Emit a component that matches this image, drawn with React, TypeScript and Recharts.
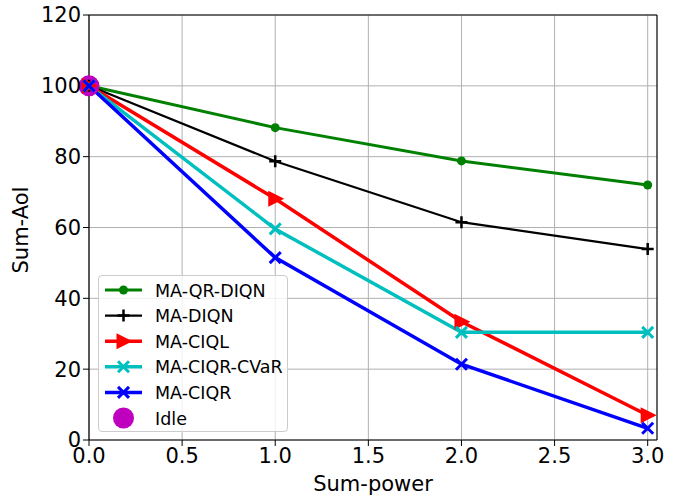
import {
  CartesianGrid,
  ComposedChart,
  Line,
  ReferenceLine,
  Scatter,
  XAxis,
  YAxis,
} from "recharts";

const powers = [0, 1, 2, 3];
const qrDiqn = [100, 88.2, 78.8, 72.0];
const diqn = [100, 78.7, 61.5, 53.9];
const ciql = [100, 68.1, 33.4, 7.0];
const ciqrCvar = [100, 59.6, 30.4, 30.4];
const ciqr = [100, 51.5, 21.4, 3.3];
const idle = [{ p: 0, idle: 100 }];

const xTicks = [0, 0.5, 1, 1.5, 2, 2.5, 3];
const yTicks = [0, 20, 40, 60, 80, 100, 120];

const data = powers.map((p, i) => ({
  p,
  qrDiqn: qrDiqn[i],
  diqn: diqn[i],
  ciql: ciql[i],
  ciqrCvar: ciqrCvar[i],
  ciqr: ciqr[i],
}));

const font = "DejaVu Sans, sans-serif";

type Shape = "circle" | "plus" | "tri" | "x" | "big";

function Marker({ shape, color, cx, cy }: { shape: Shape; color: string; cx: number; cy: number }) {
  if (shape === "circle") return <circle cx={cx} cy={cy} r={4.5} fill={color} />;
  if (shape === "big") return <circle cx={cx} cy={cy} r={10.5} fill={color} />;
  if (shape === "plus")
    return (
      <path
        d={`M${cx - 6},${cy}H${cx + 6}M${cx},${cy - 6}V${cy + 6}`}
        stroke={color}
        strokeWidth={2.5}
      />
    );
  if (shape === "tri")
    return (
      <polygon
        points={`${cx - 7},${cy - 8} ${cx + 9},${cy} ${cx - 7},${cy + 8}`}
        fill={color}
      />
    );
  return (
    <path
      d={`M${cx - 5.5},${cy - 5.5}L${cx + 5.5},${cy + 5.5}M${cx - 5.5},${cy + 5.5}L${cx + 5.5},${cy - 5.5}`}
      stroke={color}
      strokeWidth={3}
    />
  );
}

const dotFor = (shape: Shape, color: string) => (props: any) => {
  if (props.cx == null || props.cy == null) return <g key={props.key} />;
  return (
    <g key={props.key}>
      <Marker shape={shape} color={color} cx={props.cx} cy={props.cy} />
    </g>
  );
};

const series = [
  { key: "qrDiqn", name: "MA-QR-DIQN", color: "#008000", shape: "circle" as Shape, width: 3 },
  { key: "diqn", name: "MA-DIQN", color: "#000000", shape: "plus" as Shape, width: 2.2 },
  { key: "ciql", name: "MA-CIQL", color: "#ff0000", shape: "tri" as Shape, width: 3.5 },
  { key: "ciqrCvar", name: "MA-CIQR-CVaR", color: "#00bfbf", shape: "x" as Shape, width: 3.5 },
  { key: "ciqr", name: "MA-CIQR", color: "#0000ff", shape: "x" as Shape, width: 3.5 },
];

function LegendBox() {
  const rows = [...series, { key: "idle", name: "Idle", color: "#bf00bf", shape: "big" as Shape, width: 0 }];
  return (
    <div
      style={{
        position: "absolute",
        left: 98,
        top: 275,
        width: 190,
        height: 157,
        border: "1px solid #cccccc",
        borderRadius: 4,
        background: "rgba(255,255,255,0.8)",
        boxSizing: "border-box",
      }}
    >
      <svg width={188} height={155} style={{ display: "block" }}>
        {rows.map((r, i) => {
          const y = 14 + i * 25.6;
          return (
            <g key={r.key}>
              {r.width > 0 && (
                <line x1={6} x2={43} y1={y} y2={y} stroke={r.color} strokeWidth={r.width} />
              )}
              <Marker shape={r.shape} color={r.color} cx={24.5} cy={y} />
              <text x={56} y={y + 6.5} fontSize={17.5} fontFamily={font} fill="#000">
                {r.name}
              </text>
            </g>
          );
        })}
      </svg>
    </div>
  );
}

export default function App() {
  return (
    <div style={{ position: "absolute", left: 0, top: 0, width: 677, height: 495, background: "#fff", overflow: "hidden" }}>
      <ComposedChart
        width={677}
        height={495}
        data={data}
        margin={{ top: 15, right: 20, bottom: 0, left: 29 }}
      >
        <CartesianGrid stroke="#b0b0b0" strokeWidth={1} horizontalValues={yTicks} verticalValues={xTicks} />
        <XAxis
          dataKey="p"
          type="number"
          domain={[0, 3.05]}
          ticks={xTicks}
          tickFormatter={(v: number) => v.toFixed(1)}
          tick={{ fontSize: 21, fill: "#000", fontFamily: font }}
          tickSize={6}
          stroke="#000"
          axisLine={{ stroke: "#000", strokeWidth: 1.2 }}
          label={{ value: "Sum-power", position: "insideBottom", offset: 4, fontSize: 21, fill: "#000", fontFamily: font }}
          height={55}
        />
        <YAxis
          type="number"
          domain={[0, 120]}
          ticks={yTicks}
          tick={{ fontSize: 21, fill: "#000", fontFamily: font }}
          tickSize={6}
          stroke="#000"
          axisLine={{ stroke: "#000", strokeWidth: 1.2 }}
          width={60}
          label={{ value: "Sum-AoI", angle: -90, position: "insideLeft", offset: -8, dy: 46, fontSize: 21, fill: "#000", fontFamily: font }}
        />
        <ReferenceLine y={120} stroke="#000" strokeWidth={1.2} />
        <ReferenceLine x={3.05} stroke="#000" strokeWidth={1.2} />
        <Scatter
          data={idle}
          dataKey="idle"
          name="Idle"
          fill="#bf00bf"
          shape={(p: any) => <Marker shape="big" color="#bf00bf" cx={p.cx} cy={p.cy} />}
          isAnimationActive={false}
        />
        {series.map((s) => (
          <Line
            key={s.key}
            dataKey={s.key}
            name={s.name}
            stroke={s.color}
            strokeWidth={s.width}
            type="linear"
            dot={dotFor(s.shape, s.color)}
            activeDot={false}
            isAnimationActive={false}
          />
        ))}
      </ComposedChart>
      <LegendBox />
    </div>
  );
}
